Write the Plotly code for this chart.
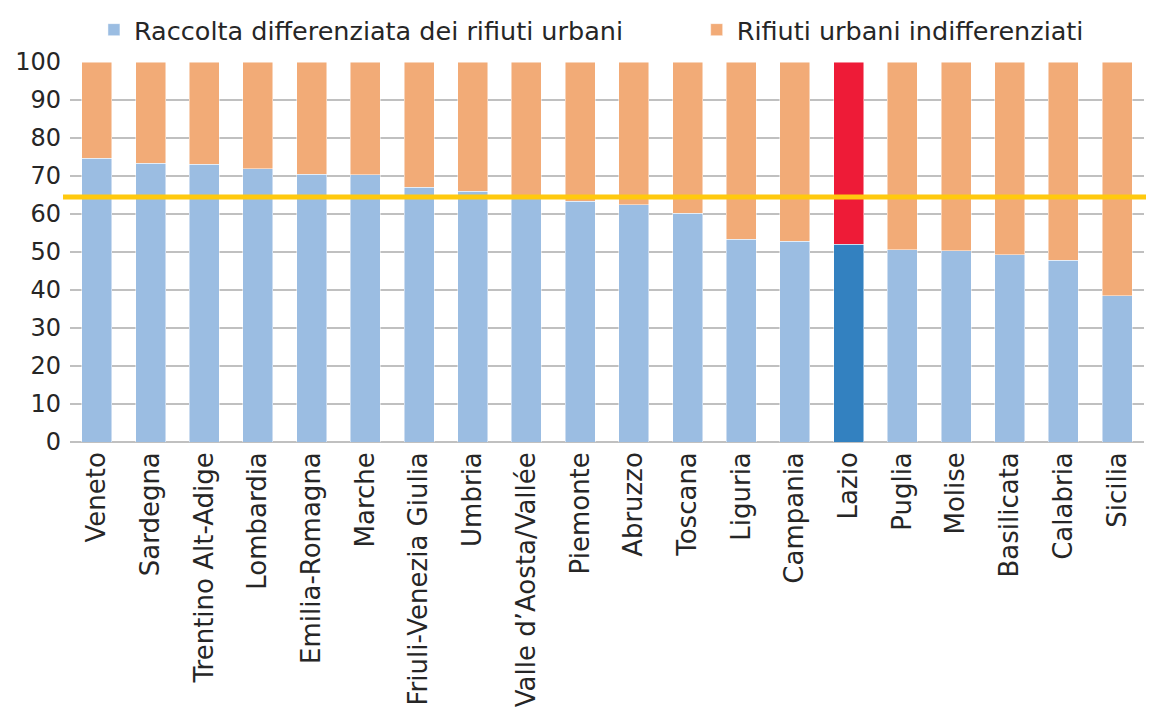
import plotly.graph_objects as go

regions = ["Veneto", "Sardegna", "Trentino Alt-Adige", "Lombardia", "Emilia-Romagna",
           "Marche", "Friuli-Venezia Giulia", "Umbria", "Valle d’Aosta/Vallée", "Piemonte",
           "Abruzzo", "Toscana", "Liguria", "Campania", "Lazio", "Puglia", "Molise",
           "Basilicata", "Calabria", "Sicilia"]
differenziata = [74.7, 73.3, 73.1, 71.9, 70.5, 70.3, 67.0, 66.0, 64.5, 63.3,
                 62.5, 60.2, 53.3, 52.8, 52.1, 50.6, 50.3, 49.3, 47.8, 38.5]
indifferenziati = [25.3, 26.7, 26.9, 28.1, 29.5, 29.7, 33.0, 34.0, 35.5, 36.7,
                   37.5, 39.8, 46.7, 47.2, 47.9, 49.4, 49.7, 50.7, 52.2, 61.5]
target = 64.5
highlight = "Lazio"
y_range = [0, 100]

BLUE = "#9BBDE2"
ORANGE = "#F2AB77"
BLUE_HL = "#3381C0"
RED_HL = "#EE1B37"
FONT = "DejaVu Sans"
TXT = "#262626"

blue_colors = [BLUE_HL if r == highlight else BLUE for r in regions]
orange_colors = [RED_HL if r == highlight else ORANGE for r in regions]
edge = dict(color="rgba(255,255,255,0.6)", width=0.8)

fig = go.Figure()
fig.add_trace(go.Bar(
    x=regions, y=differenziata, name="Raccolta differenziata dei rifiuti urbani",
    marker=dict(color=blue_colors, line=edge), legend="legend",
))
fig.add_trace(go.Bar(
    x=regions, y=indifferenziati, name="Rifiuti urbani indifferenziati",
    marker=dict(color=orange_colors, line=edge), legend="legend2",
))

y_frac = (target - y_range[0]) / (y_range[1] - y_range[0])
fig.add_shape(type="line", xref="paper", yref="paper", x0=-0.0065, x1=1.03,
              y0=y_frac, y1=y_frac, line=dict(color="#FFC90E", width=5), layer="above")

leg_common = dict(orientation="h", yanchor="middle", y=1.084, xanchor="left",
                  bgcolor="rgba(0,0,0,0)", font=dict(size=25.5, color=TXT))
fig.update_layout(
    width=1146, height=717,
    barmode="stack", bargap=0.44,
    margin=dict(l=62, r=10, t=54, b=283, autoexpand=False),
    plot_bgcolor="white", paper_bgcolor="white",
    font=dict(family=FONT, size=26, color=TXT),
    showlegend=True,
    legend=dict(x=0.0223, **leg_common),
    legend2=dict(x=0.5835, **leg_common),
    xaxis=dict(tickangle=-90, showgrid=False, showline=False, ticks="",
               ticklabelstandoff=4, tickfont=dict(size=26, color=TXT)),
    yaxis=dict(range=y_range, dtick=10, showgrid=True, gridcolor="#C0C0C0", gridwidth=1.5,
               zeroline=True, zerolinecolor="#C0C0C0", zerolinewidth=1.5,
               ticks="", ticklabelstandoff=8, tickfont=dict(size=24, color=TXT)),
)

fig.write_html("out.html")
